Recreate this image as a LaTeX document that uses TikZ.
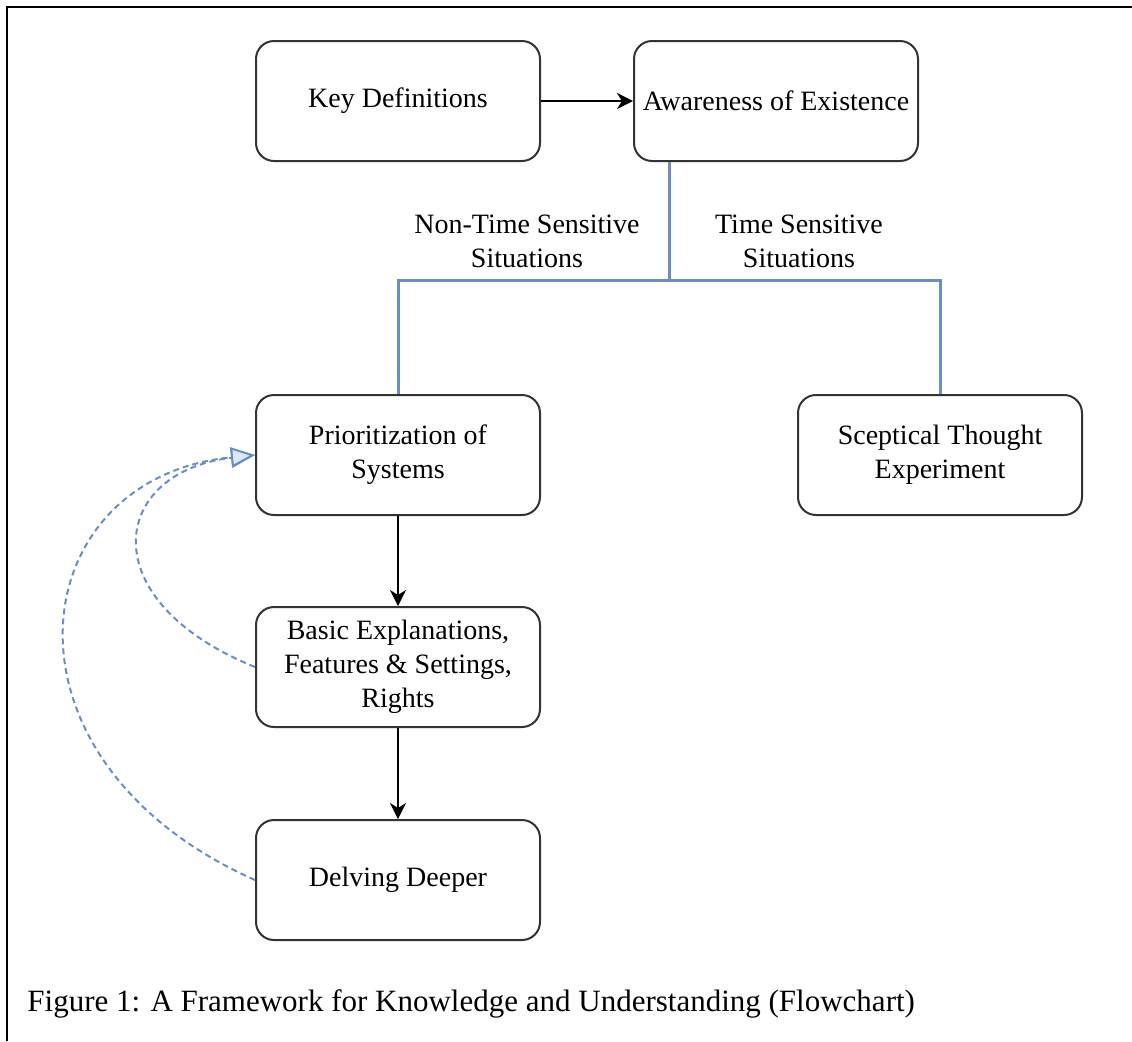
\documentclass[tikz,border=0pt]{standalone}
\usepackage{fontspec}
\setmainfont{Liberation Serif}
\usetikzlibrary{arrows.meta}
\definecolor{linkblue}{HTML}{6C8EBF}
\definecolor{headfill}{HTML}{DAE8FC}

\begin{document}
\begin{tikzpicture}[
        x=0.5pt,
        y=-0.5pt,
        box/.style={draw=black!80, line width=1pt, rounded corners=9pt, minimum width=142pt, minimum height=60pt, align=center, inner sep=0pt, font=\fontsize{14}{17}\selectfont},
        cond/.style={align=center, font=\fontsize{14}{17}\selectfont},
        flow/.style={line width=1pt, -{Stealth[length=8pt, width=8pt, inset=2.5pt]}},
        tree/.style={draw=linkblue, line width=1.5pt},
        loopback/.style={draw=linkblue, line width=1pt, dash pattern=on 3pt off 2pt, -{Triangle[length=12pt, width=10pt, fill=headfill]}},
        >=Latex
    ]
        \useasboundingbox (0,0) rectangle (1132,1041);
        \draw[line width=1.2pt] (7,1041) -- (7,7) -- (1132,7);

        \node[box] (keydef) at (398,101) {Key Definitions};
        \node[box] (aware) at (776,101) {Awareness of Existence};
        \node[box] (prior) at (398,455) {Prioritization of\\Systems};
        \node[box] (scept) at (940,455) {Sceptical Thought\\Experiment};
        \node[box] (basic) at (398,667) {Basic Explanations,\\Features \& Settings,\\Rights};
        \node[box] (delve) at (398,880) {Delving Deeper};

        \draw[flow] (keydef) -- (aware);
        \draw[flow] (prior) -- (basic);
        \draw[flow] (basic) -- (delve);

        \coordinate (split) at (669,280);
        \draw[tree] (aware.south -| split) -- (split);
        \draw[tree] (prior.north) |- (split) -| (scept.north);
        \node[cond] (nontime) at (527,241) {Non-Time Sensitive\\Situations};
        \node[cond] (timesens) at (799,241) {Time Sensitive\\Situations};

        \draw[loopback] (basic.west) .. controls (90,600) and (110,472) .. (prior.west);
        \draw[loopback] (delve.west) .. controls (-15,760) and (20,478) .. (prior.west);

        \node[anchor=west, inner sep=0pt, font=\fontsize{15.5}{18}\selectfont] (caption) at (27,1004)
            {Figure 1: A Framework for Knowledge and Understanding (Flowchart)};
    \end{tikzpicture}
\end{document}
